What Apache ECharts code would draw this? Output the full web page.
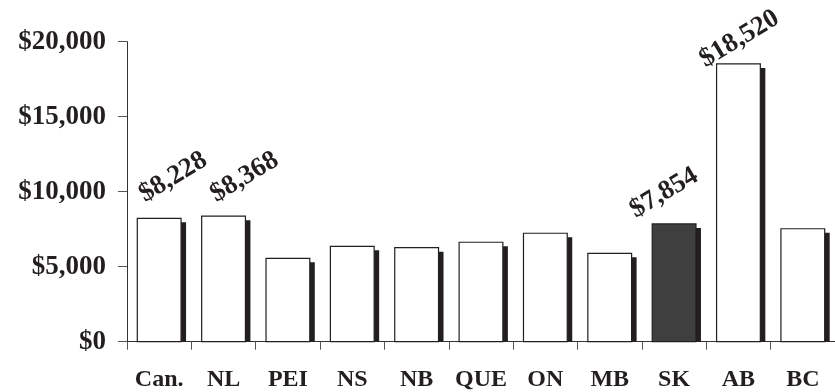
<!DOCTYPE html>
<html>
<head>
<meta charset="utf-8">
<script src="https://cdn.jsdelivr.net/npm/echarts@6/dist/echarts.min.js"></script>
<style>
  html, body { margin: 0; padding: 0; background: #fff; }
  #chart { width: 835px; height: 392px; }
</style>
</head>
<body>
<div id="chart"></div>
<script>
// Per-capita spending by jurisdiction
const categories = ['Can.', 'NL', 'PEI', 'NS', 'NB', 'QUE', 'ON', 'MB', 'SK', 'AB', 'BC'];
const spending = [8228, 8368, 5560, 6360, 6270, 6630, 7230, 5890, 7854, 18520, 7530];
const labelled = ['Can.', 'NL', 'SK', 'AB'];
const highlighted = 'SK';
const yTicks = [0, 5000, 10000, 15000, 20000];

// Hand-placed value label nudges (px from bar centre / bar top)
const labelNudge = {
  'Can.': [14, -41],
  'NL': [21, -39],
  'SK': [-10, -31],
  'AB': [1, -25]
};

const INK = '#231f20';
const SERIF = '"Liberation Serif", "Times New Roman", serif';

const fmt = v => '$' + v.toLocaleString('en-US');

function renderBar(params, api) {
  const idx = api.value(0);
  const val = api.value(1);
  const name = categories[idx];
  const top = api.coord([idx, val]);
  const base = api.coord([idx, 0]);
  const band = api.size([1, 0])[0];
  const w = band * 0.68;
  const left = top[0] - w / 2;
  const h = base[1] - top[1];
  const children = [
    {
      type: 'rect',
      shape: { x: left + 5, y: top[1] + 4, width: w, height: Math.max(h - 4, 0) },
      style: { fill: INK }
    },
    {
      type: 'rect',
      shape: { x: left, y: top[1], width: w, height: h },
      style: {
        fill: name === highlighted ? '#3f3f3f' : '#ffffff',
        stroke: INK,
        lineWidth: 1.2
      }
    }
  ];
  if (labelled.indexOf(name) >= 0) {
    const n = labelNudge[name] || [8, -32];
    children.push({
      type: 'text',
      x: top[0] + n[0],
      y: top[1] + n[1],
      rotation: 31 * Math.PI / 180,
      style: {
        text: fmt(val),
        font: 'bold 27px ' + SERIF,
        fill: INK,
        textAlign: 'center',
        textVerticalAlign: 'middle'
      }
    });
  }
  return { type: 'group', children: children };
}

const chart = echarts.init(document.getElementById('chart'), null, { renderer: 'canvas' });
chart.setOption({
  animation: false,
  backgroundColor: '#ffffff',
  grid: { left: 127, right: -3, top: 41.7, bottom: 50.3, containLabel: false },
  xAxis: {
    type: 'category',
    data: categories,
    boundaryGap: true,
    axisLine: { lineStyle: { color: '#333', width: 1 } },
    axisTick: { show: true, length: 8, lineStyle: { color: '#555', width: 1 } },
    axisLabel: {
      margin: 26,
      interval: 0,
      color: INK,
      fontFamily: SERIF,
      fontWeight: 'bold',
      fontSize: 24
    }
  },
  yAxis: {
    type: 'value',
    min: yTicks[0],
    max: yTicks[yTicks.length - 1],
    interval: yTicks[1] - yTicks[0],
    axisLine: { show: true, lineStyle: { color: '#333', width: 1 } },
    axisTick: { show: true, length: 9, lineStyle: { color: '#555', width: 1 } },
    splitLine: { show: false },
    axisLabel: {
      margin: 21,
      color: INK,
      fontFamily: SERIF,
      fontWeight: 'bold',
      fontSize: 27,
      formatter: v => fmt(v)
    }
  },
  series: [{
    type: 'custom',
    renderItem: renderBar,
    clip: false,
    encode: { x: 0, y: 1 },
    data: spending.map((v, i) => [i, v])
  }]
});
</script>
</body>
</html>
